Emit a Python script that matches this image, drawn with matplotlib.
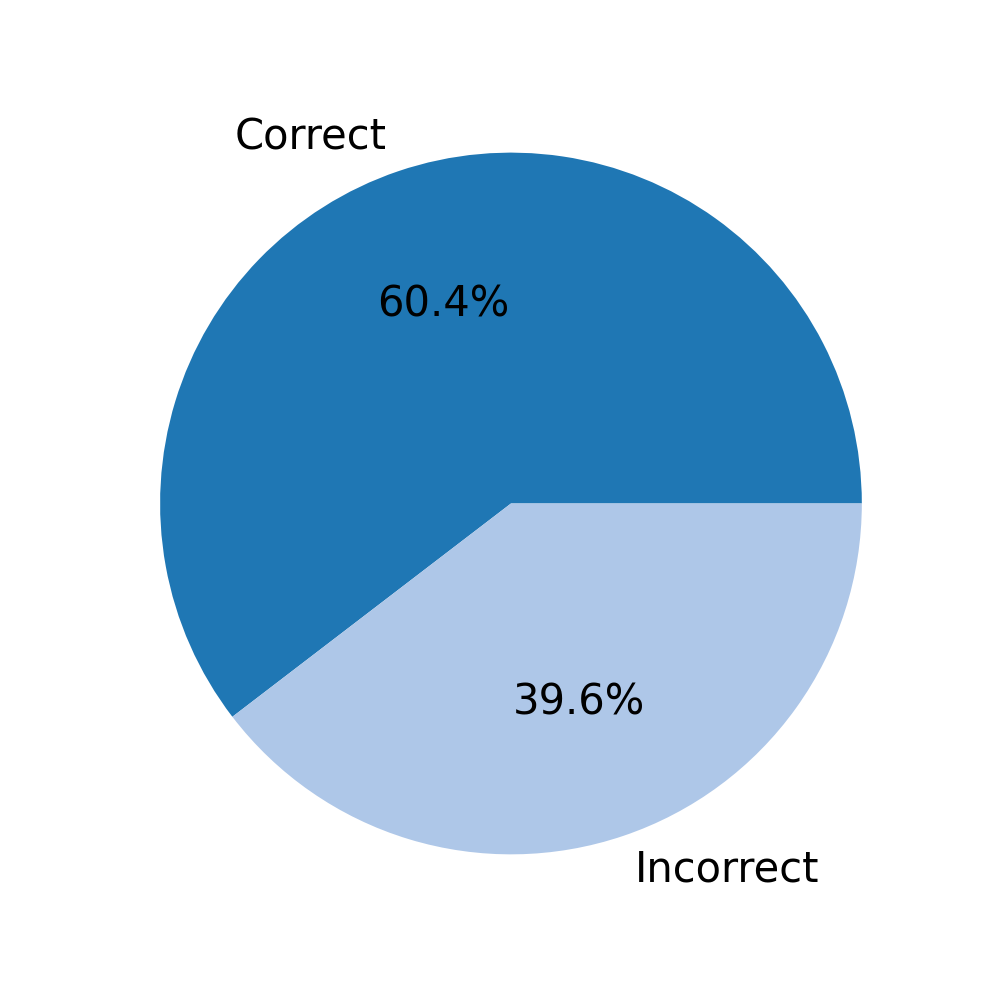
import matplotlib.pyplot as plt

labels = ['Correct', 'Incorrect']
values = [60.4, 39.6]
colors = ['#1f77b4', '#aec7e8']

fig, ax = plt.subplots(figsize=(9.97, 9.97), dpi=100)
ax.pie(values, labels=labels, colors=colors, autopct='%1.1f%%',
       textprops={'fontsize': 30})
ax.set_xlim(-1.094, 1.094)
ax.set_ylim(-1.094, 1.094)
fig.savefig('out.png')
